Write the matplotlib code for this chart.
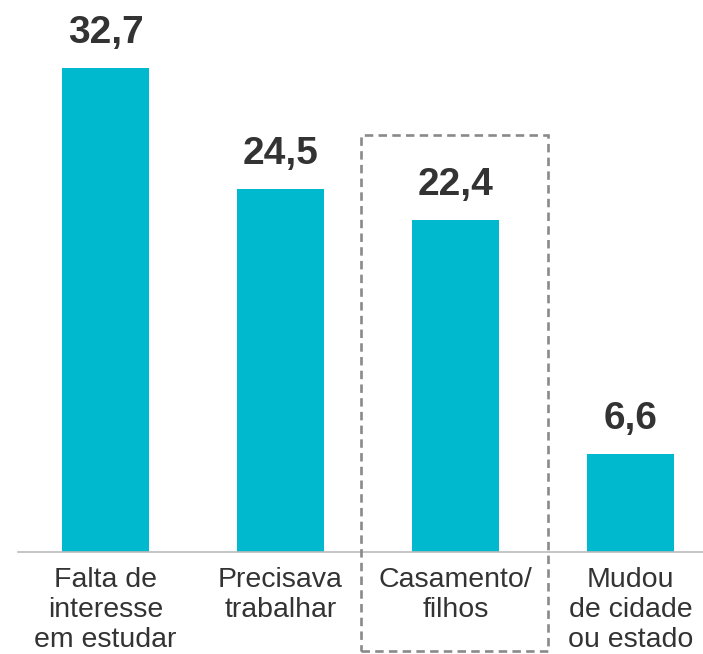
import matplotlib
matplotlib.use("Agg")
import matplotlib.pyplot as plt
from matplotlib.patches import Rectangle
from matplotlib.transforms import blended_transform_factory

# dados
categorias = ["Falta de\ninteresse\nem estudar", "Precisava\ntrabalhar",
              "Casamento/\nfilhos", "Mudou\nde cidade\nou estado"]
valores = [32.7, 24.5, 22.4, 6.6]
rotulos = ["32,7", "24,5", "22,4", "6,6"]
destaque = 2

cor_barra = "#00b9cf"
cor_texto = "#333333"
fonte = ["Liberation Sans", "DejaVu Sans"]

W, H = 703, 654
fig = plt.figure(figsize=(W / 100, H / 100), dpi=100)
ax = fig.add_axes([18 / W, 1 - 552 / H, 1 - 18 / W, 552 / H])

x = list(range(len(valores)))
ax.bar(x, valores, width=0.5, color=cor_barra, zorder=2)
ax.set_xlim(-0.5, 3.414)
ax.set_ylim(0, 552 / 14.8)

for xi, v, r in zip(x, valores, rotulos):
    ax.annotate(r, (xi, v), xytext=(0, 18), textcoords="offset points",
                ha="center", va="baseline", fontsize=28, fontweight="bold",
                color=cor_texto, family=fonte)

trans = blended_transform_factory(ax.transData, ax.transAxes)
for xi, c in zip(x, categorias):
    ax.text(xi, -0.027, c, ha="center", va="top", fontsize=20.5,
            color=cor_texto, family=fonte, linespacing=1.2,
            transform=trans)

# caixa tracejada em volta do destaque
caixa = Rectangle((destaque - 0.54, -0.179), 1.07, 0.934, transform=trans,
                  fill=False, edgecolor="#8a8a8a", linewidth=1.9,
                  linestyle=(0, (3.2, 2.0)), clip_on=False, zorder=3)
ax.add_patch(caixa)

for s in ["top", "right", "left"]:
    ax.spines[s].set_visible(False)
ax.spines["bottom"].set_color("#bbbbbb")
ax.spines["bottom"].set_linewidth(1.2)
ax.set_xticks([])
ax.set_yticks([])

fig.savefig("out.png", dpi=100)
